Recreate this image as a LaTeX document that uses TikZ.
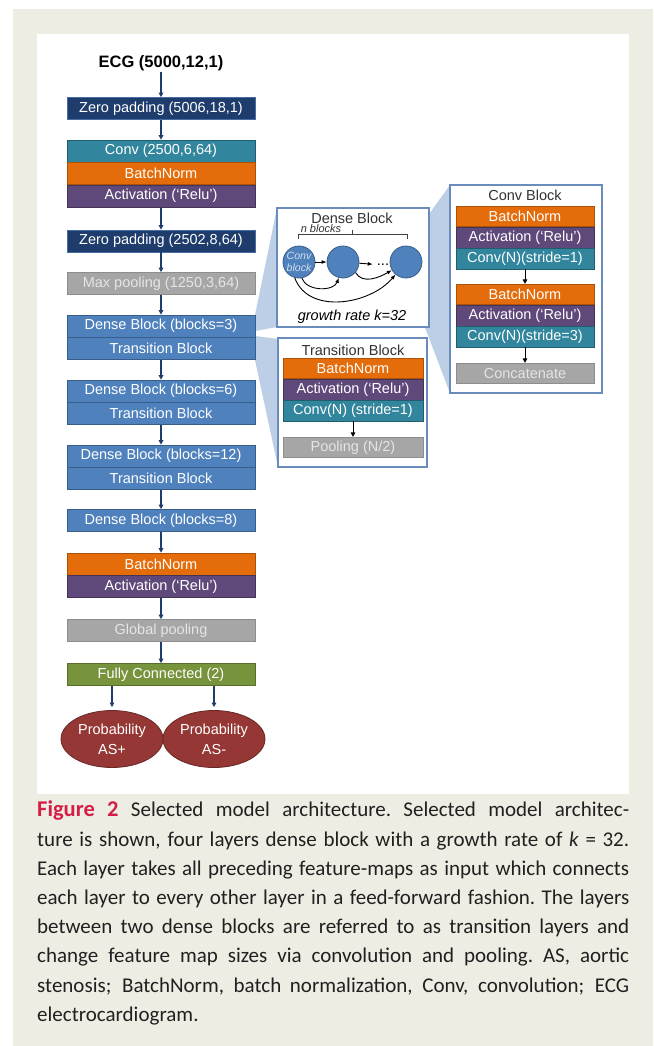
\documentclass[tikz,border=0pt]{standalone}
\usepackage{fontspec}
\setmainfont{Liberation Sans}
\newfontfamily\capfont{Carlito}
\usetikzlibrary{positioning,arrows.meta,shapes.geometric}

\definecolor{pagebg}{RGB}{238,237,227}
\definecolor{navyc}{RGB}{30,60,108}
\definecolor{navyline}{RGB}{70,110,165}
\definecolor{tealc}{RGB}{49,133,156}
\definecolor{orangec}{RGB}{228,108,10}
\definecolor{purplec}{RGB}{95,73,122}
\definecolor{grayc}{RGB}{166,166,166}
\definecolor{bluec}{RGB}{79,129,189}
\definecolor{blueline}{RGB}{56,93,138}
\definecolor{greenc}{RGB}{119,147,60}
\definecolor{redc}{RGB}{149,55,53}
\definecolor{wedgec}{RGB}{188,207,231}
\definecolor{panelc}{RGB}{105,140,188}
\definecolor{capred}{RGB}{212,30,72}
\definecolor{captext}{RGB}{35,31,32}

\def\layerfont{\fontsize{14.5}{16}\selectfont}
\def\capline#1{\hbox to 592pt{\spaceskip=0.22em plus 0.6em minus 0.07em\xspaceskip=\spaceskip #1}}

\tikzset{
  layer/.style={minimum width=188pt, minimum height=22pt, inner sep=0pt,
    font=\layerfont, text=white, line width=0.6pt},
  zpbox/.style={layer, fill=navyc, draw=navyline},
  convbox/.style={layer, fill=tealc, draw=tealc!70!black},
  bnbox/.style={layer, fill=orangec, draw=orangec!75!black},
  actbox/.style={layer, fill=purplec, draw=purplec!70!black},
  poolbox/.style={layer, fill=grayc, draw=grayc!85!black, text=white!90!black},
  densebox/.style={layer, fill=bluec, draw=blueline},
  fcbox/.style={layer, fill=greenc, draw=greenc!75!black},
  probnode/.style={ellipse, minimum width=102pt, minimum height=57pt, inner sep=0pt,
    fill=redc, draw=redc!70!black, line width=0.8pt, text=white, align=center,
    font=\fontsize{14.5}{20}\selectfont},
  flow/.style={-{Triangle[length=4.5pt,width=4.5pt]}, draw=navyc, line width=1.1pt},
  subarr/.style={-{Triangle[length=4.5pt,width=4.5pt]}, draw=black, line width=1pt},
  thinarr/.style={-{Latex[length=5pt,width=4pt]}, draw=black, line width=0.9pt},
  panel/.style={draw=panelc, line width=1.4pt, fill=white, inner sep=0pt},
  paneltitle/.style={font=\layerfont, text=black!80, inner sep=0pt},
  sublayer/.style={layer, minimum width=138pt, minimum height=20.5pt},
  sbn/.style={sublayer, fill=orangec, draw=orangec!75!black},
  sact/.style={sublayer, fill=purplec, draw=purplec!70!black},
  sconv/.style={sublayer, fill=tealc, draw=tealc!70!black},
  spool/.style={sublayer, fill=grayc, draw=grayc!85!black, text=white!90!black},
  densecirc/.style={circle, minimum size=32pt, inner sep=0pt, fill=bluec,
    draw=blueline, line width=0.8pt}
}

\begin{document}
\begin{tikzpicture}[x=1pt,y=-1pt]
  %%%%% BACKGROUND %%%%%
  \useasboundingbox (0,0) rectangle (653,1046);
  \fill[pagebg] (13,9) rectangle (653,1046);
  \fill[white] (37,34) rectangle (629,794);

  %%%%% ZOOM WEDGES %%%%%
  \fill[wedgec] (255,315) -- (277,208) -- (277,327) -- (255,331) -- cycle;
  \fill[wedgec] (255,336) -- (278,339) -- (278,467) -- (255,360) -- cycle;
  \fill[wedgec] (406,246) -- (450,185) -- (450,393) -- (406,278) -- cycle;

  %%%%% MAIN COLUMN %%%%%
  \node[font=\bfseries\fontsize{16.5}{18}\selectfont, inner sep=1pt] (ecg) at (161,63) {ECG (5000,12,1)};
  \node[zpbox] (zpa) at (161,108.5) {Zero padding (5006,18,1)};
  \node[convbox] (conva) at (161,151) {Conv (2500,6,64)};
  \node[bnbox, below=0pt of conva] (bna) {BatchNorm};
  \node[actbox, below=0pt of bna] (acta) {Activation (`Relu')};
  \node[zpbox] (zpb) at (161,241) {Zero padding (2502,8,64)};
  \node[poolbox] (mpool) at (161,283.5) {Max pooling (1250,3,64)};
  \node[densebox] (dba) at (161,326) {Dense Block (blocks=3)};
  \node[densebox, below=0pt of dba] (tra) {Transition Block};
  \node[densebox] (dbb) at (161,391) {Dense Block (blocks=6)};
  \node[densebox, below=0pt of dbb] (trb) {Transition Block};
  \node[densebox] (dbc) at (161,456) {Dense Block (blocks=12)};
  \node[densebox, below=0pt of dbc] (trc) {Transition Block};
  \node[densebox] (dbd) at (161,520.5) {Dense Block (blocks=8)};
  \node[bnbox] (bnb) at (161,564) {BatchNorm};
  \node[actbox, below=0pt of bnb] (actb) {Activation (`Relu')};
  \node[poolbox] (gpool) at (161,630.5) {Global pooling};
  \node[fcbox] (fc) at (161,674.5) {Fully Connected (2)};
  \node[probnode] (pa) at (112,739) {Probability\\AS+};
  \node[probnode] (pb) at (214,739) {Probability\\AS-};

  \draw[flow] (ecg) -- (zpa);
  \draw[flow] (zpa) -- (conva);
  \draw[flow] (acta) -- (zpb);
  \draw[flow] (zpb) -- (mpool);
  \draw[flow] (mpool) -- (dba);
  \draw[flow] (tra) -- (dbb);
  \draw[flow] (trb) -- (dbc);
  \draw[flow] (trc) -- (dbd);
  \draw[flow] (dbd) -- (bnb);
  \draw[flow] (actb) -- (gpool);
  \draw[flow] (gpool) -- (fc);
  \draw[flow] (fc.south -| pa.north) -- ([yshift=3pt]pa.north);
  \draw[flow] (fc.south -| pb.north) -- ([yshift=3pt]pb.north);

  %%%%% DENSE BLOCK %%%%%
  \node[panel, minimum width=152pt, minimum height=119pt] (densep) at (353,267.5) {};
  \node[paneltitle] (denset) at (352,218) {Dense Block};
  \draw[line width=0.8pt, black!75] (298,239) -- (298,234) -- (407,234) -- (407,239);
  \draw[line width=0.8pt, black!75] (352,234) -- (352,230);
  \node[font=\itshape\fontsize{11}{12}\selectfont, text=black!80, inner sep=0pt] (nblk) at (321,229) {n blocks};
  \node[densecirc, font=\itshape\fontsize{10.5}{12}\selectfont, text=white!75!bluec, align=center] (ca) at (299,262) {Conv\\block};
  \node[densecirc] (cb) at (343,262) {};
  \node[densecirc] (cc) at (406,262) {};
  \node[font=\layerfont, inner sep=0pt] (dots) at (383,265) {...};
  \draw[thinarr] (ca) -- (cb);
  \draw[thinarr, shorten >=4pt] (cb) -- (dots);
  \draw[thinarr] (ca.-80) to[out=-70,in=-110] (cb.-105);
  \draw[thinarr] (ca.-105) to[out=-70,in=-130] (cc.-130);
  \draw[thinarr] (cb.-40) to[out=-60,in=-150] (cc.-150);
  \node[font=\itshape\layerfont, inner sep=0pt] (grow) at (352,317) {growth rate k=32};

  %%%%% CONV BLOCK %%%%%
  \node[panel, minimum width=152pt, minimum height=208pt] (convp) at (526,289) {};
  \node[paneltitle] (convt) at (525,195) {Conv Block};
  \node[sbn] (bnc) at (525,216.5) {BatchNorm};
  \node[sact, below=0pt of bnc] (actc) {Activation (`Relu')};
  \node[sconv, below=0pt of actc] (convc) {Conv(N)(stride=1)};
  \node[sbn] (bnd) at (525,294.5) {BatchNorm};
  \node[sact, below=0pt of bnd] (actd) {Activation (`Relu')};
  \node[sconv, below=0pt of actd] (convd) {Conv(N)(stride=3)};
  \node[spool] (concat) at (525,373.5) {Concatenate};
  \draw[subarr] (convc) -- (bnd);
  \draw[subarr] (convd) -- (concat);

  %%%%% TRANSITION BLOCK %%%%%
  \node[panel, minimum width=149pt, minimum height=129pt] (transp) at (352.5,402.5) {};
  \node[paneltitle] (transt) at (353,350) {Transition Block};
  \node[sbn, minimum width=140pt] (bne) at (353,368.5) {BatchNorm};
  \node[sact, minimum width=140pt, below=0pt of bne] (acte) {Activation (`Relu')};
  \node[sconv, minimum width=140pt, below=0pt of acte] (conve) {Conv(N) (stride=1)};
  \node[spool, minimum width=140pt] (poole) at (353,447.5) {Pooling (N/2)};
  \draw[subarr] (conve) -- (poole);

  %%%%% CAPTION %%%%%
  \node[anchor=north west, inner sep=0pt, text width=592pt, text=captext,
        font=\capfont\fontsize{21}{29.2}\selectfont] (caption) at (37,801) {%
    \capline{\textcolor{capred}{\bfseries\fontsize{22.5}{29.2}\selectfont Figure 2} Selected model architecture. Selected model architec-}
    \capline{ture is shown, four layers dense block with a growth rate of \textit{k} = 32.}
    \capline{Each layer takes all preceding feature-maps as input which connects}
    \capline{each layer to every other layer in a feed-forward fashion. The layers}
    \capline{between two dense blocks are referred to as transition layers and}
    \capline{change feature map sizes via convolution and pooling. AS, aortic}
    \capline{stenosis; BatchNorm, batch normalization, Conv, convolution; ECG}
    \hbox{electrocardiogram.}};
\end{tikzpicture}
\end{document}
